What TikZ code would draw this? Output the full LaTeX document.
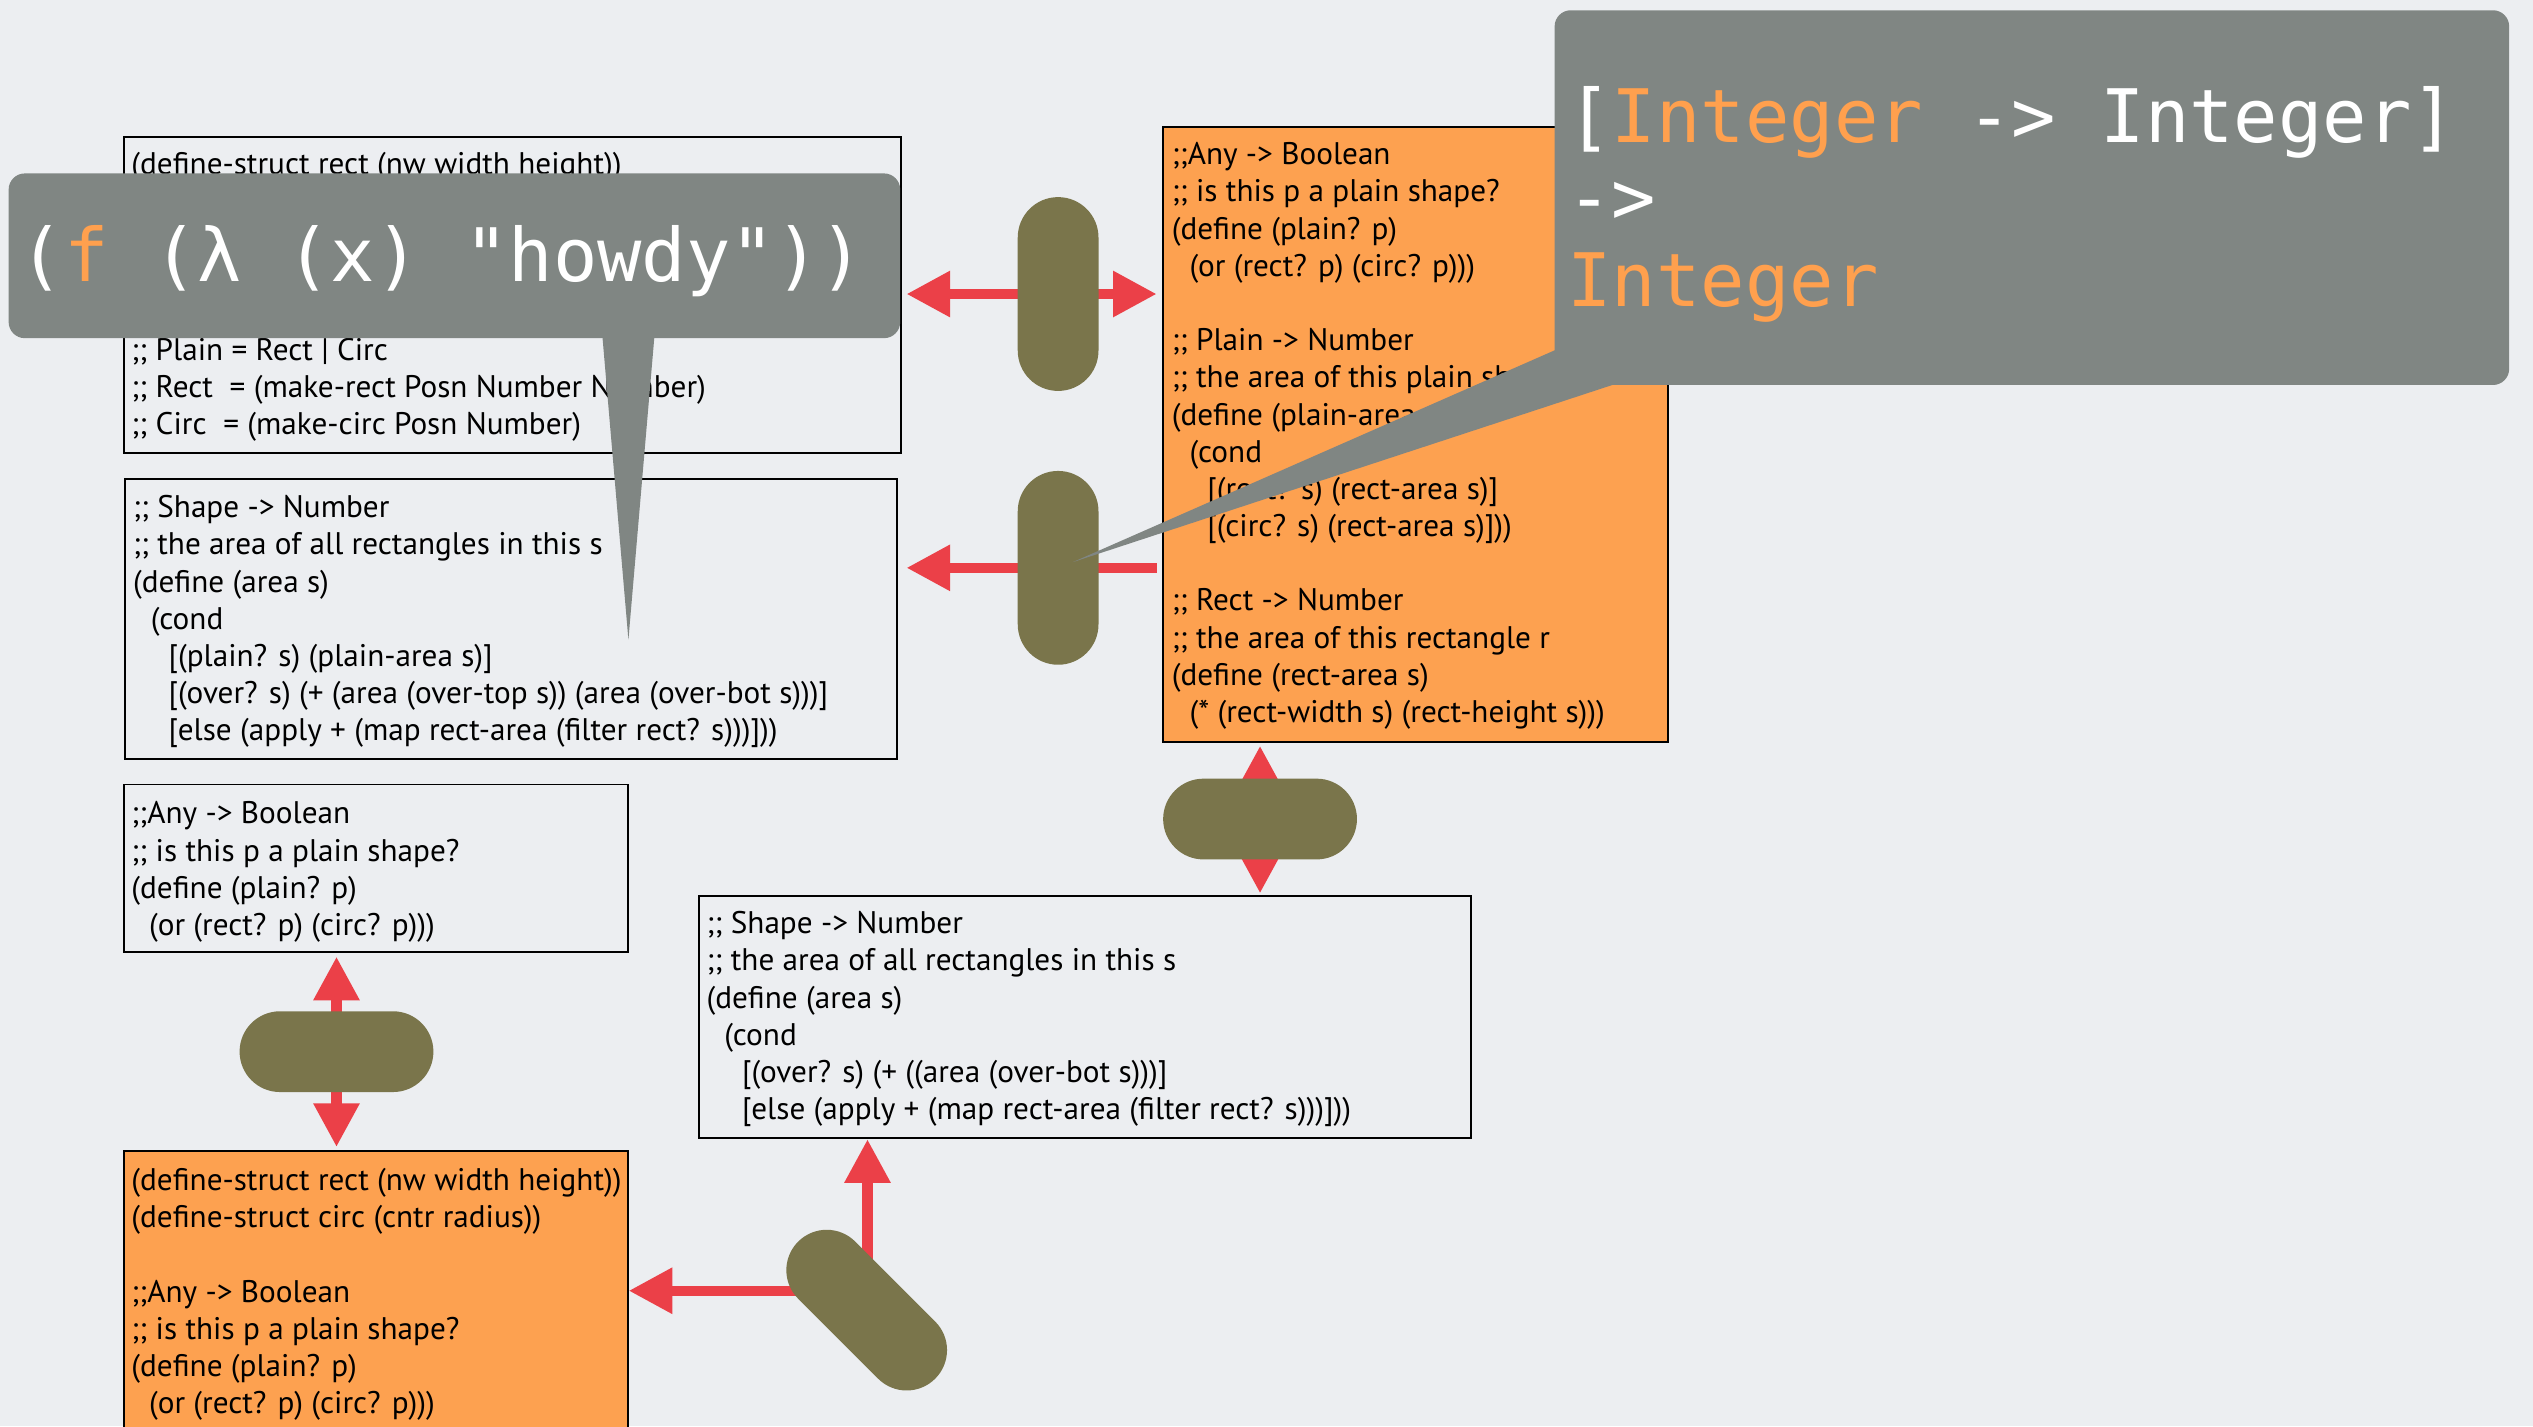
\documentclass[tikz,border=0pt]{standalone}
\usepackage{fontspec}
\setmainfont{PT Sans}
\newfontfamily\monofont{DejaVu Sans Mono}
\usetikzlibrary{arrows.meta,shapes.misc}

\definecolor{bgcol}{HTML}{ECEEF1}
\definecolor{boxorange}{HTML}{FDA150}
\definecolor{typeorange}{HTML}{FFA04E}
\definecolor{pillolive}{HTML}{7A754B}
\definecolor{linkred}{HTML}{EB4048}
\definecolor{calloutgray}{HTML}{808683}

\newcommand\codesize{\fontsize{11}{13.1}\selectfont}
\newcommand\codeindent{\hspace*{0.22cm}}
\newcommand\codeindentii{\hspace*{0.44cm}}
\newcommand\codelines[1]{\parbox[t]{12cm}{\codesize #1}}

\begin{document}
\begin{tikzpicture}[x=0.02cm,y=-0.02cm,
  plainbox/.style={draw=black,line width=0.7pt,inner sep=0pt,anchor=north west},
  orangebox/.style={plainbox,fill=boxorange},
  codetext/.style={anchor=base west,inner sep=0pt,text=black},
  pill/.style={rounded rectangle,fill=pillolive,minimum width=2.4cm,minimum height=1cm,inner sep=0pt},
  link/.style={draw=linkred,line width=3.6pt,>={Triangle[length=0.54cm,width=0.54cm]}},
  calloutbody/.style={fill=calloutgray,rounded corners=0.2cm,anchor=north west,inner sep=0pt},
  monotext/.style={anchor=base west,inner sep=0pt,text=white,font={\monofont\fontsize{26}{30}\selectfont}}]

\useasboundingbox (0,0) rectangle (1568,883);
\clip (0,0) rectangle (1568,883);
\fill[bgcol] (0,0) rectangle (1568,883);

% ---- code boxes ----
\node[plainbox,minimum width=9.62cm,minimum height=3.92cm] (defsbox) at (76,84) {};
\node[codetext] (defstext) at (81,108) {\codelines{(define-struct rect (nw width height))\\
\mbox{}\\ \mbox{}\\ \mbox{}\\ \mbox{}\\
;; Plain = Rect | Circ\\
;; Rect~~= (make-rect Posn Number Number)\\
;; Circ~~= (make-circ Posn Number)}};

\node[plainbox,minimum width=9.56cm,minimum height=3.46cm] (areabox) at (77,296) {};
\node[codetext] (areatext) at (82,320.5) {\codelines{;; Shape -> Number\\
;; the area of all rectangles in this s\\
(define (area s)\\
\codeindent(cond\\
\codeindentii[(plain? s) (plain-area s)]\\
\codeindentii[(over? s) (+ (area (over-top s)) (area (over-bot s)))]\\
\codeindentii[else (apply + (map rect-area (filter rect? s)))]))}};

\node[orangebox,minimum width=6.26cm,minimum height=7.62cm] (helperbox) at (719,78) {};
\node[codetext] (helpertext) at (725,102) {\codelines{;;Any -> Boolean\\
;; is this p a plain shape?\\
(define (plain? p)\\
\codeindent(or (rect? p) (circ? p)))\\
\mbox{}\\
;; Plain -> Number\\
;; the area of this plain shape\\
(define (plain-area s)\\
\codeindent(cond\\
\codeindentii[(rect? s) (rect-area s)]\\
\codeindentii[(circ? s) (rect-area s)]))\\
\mbox{}\\
;; Rect -> Number\\
;; the area of this rectangle r\\
(define (rect-area s)\\
\codeindent(* (rect-width s) (rect-height s)))}};

\node[plainbox,minimum width=6.24cm,minimum height=2.08cm] (plainqbox) at (76,485) {};
\node[codetext] (plainqtext) at (81,510) {\codelines{;;Any -> Boolean\\
;; is this p a plain shape?\\
(define (plain? p)\\
\codeindent(or (rect? p) (circ? p)))}};

\node[plainbox,minimum width=9.56cm,minimum height=3.0cm] (overbox) at (432,554) {};
\node[codetext] (overtext) at (437,578) {\codelines{;; Shape -> Number\\
;; the area of all rectangles in this s\\
(define (area s)\\
\codeindent(cond\\
\codeindentii[(over? s) (+ ((area (over-bot s)))]\\
\codeindentii[else (apply + (map rect-area (filter rect? s)))]))}};

\node[orangebox,minimum width=6.24cm,minimum height=3.76cm] (structbox) at (76,712) {};
\node[codetext] (structtext) at (81,737) {\codelines{(define-struct rect (nw width height))\\
(define-struct circ (cntr radius))\\
\mbox{}\\
;;Any -> Boolean\\
;; is this p a plain shape?\\
(define (plain? p)\\
\codeindent(or (rect? p) (circ? p)))}};

% ---- pill positions ----
\coordinate (pillApos) at (655,182);
\coordinate (pillBpos) at (655,351.5);
\coordinate (pillCpos) at (780,507);
\coordinate (pillDpos) at (208.3,651);
\coordinate (pillEpos) at (536.5,811);
\coordinate (hubE) at (537,799);

% ---- connectors (under the pills) ----
\draw[link,<->,shorten <=0.06cm,shorten >=0.06cm] (pillApos -| defsbox.east) -- (pillApos -| helperbox.west);
\draw[link,->,shorten <=0.06cm,shorten >=0.1cm] (pillBpos -| helperbox.west) -- (pillBpos -| areabox.east);
\draw[link,<->,shorten <=0.03cm,shorten >=0.02cm] (pillCpos |- helperbox.south) -- (pillCpos |- overbox.north);
\draw[link,<->,shorten <=0.04cm,shorten >=0.04cm] (pillDpos |- plainqbox.south) -- (pillDpos |- structbox.north);
\draw[link,->] (hubE) -- (hubE |- overbox.south);
\draw[link,->] (hubE) -- (hubE -| structbox.east);

% ---- pills ----
\node[pill,rotate=90] (pillA) at (pillApos) {};
\node[pill,rotate=90] (pillB) at (pillBpos) {};
\node[pill] (pillC) at (pillCpos) {};
\node[pill] (pillD) at (pillDpos) {};
\node[pill,rotate=-45] (pillE) at (pillEpos) {};

% ---- callout with the lambda expression ----
\coordinate (lambdatip) at (389,396);
\fill[calloutgray] (372.2,200) -- (405.8,200) -- (lambdatip) -- cycle;
\node[calloutbody,minimum width=11.04cm,minimum height=2.04cm] (lambdacall) at (5,107) {};
\node[monotext] (lambdatext) at (12,174) {(\textcolor{typeorange}{f} (λ (x) "howdy"))};

% ---- callout with the type signature ----
\coordinate (typetip) at (664,348);
\fill[calloutgray] (975,211.3) -- (1010,234.4) -- (typetip) -- cycle;
\node[calloutbody,minimum width=11.82cm,minimum height=4.64cm] (typecall) at (962,6) {};
\node[monotext] (typeline1) at (970,88) {[\textcolor{typeorange}{Integer} -> Integer]};
\node[monotext] (typeline2) at (970,138.5) {->};
\node[monotext] (typeline3) at (970,190) {\textcolor{typeorange}{Integer}};

\end{tikzpicture}
\end{document}
